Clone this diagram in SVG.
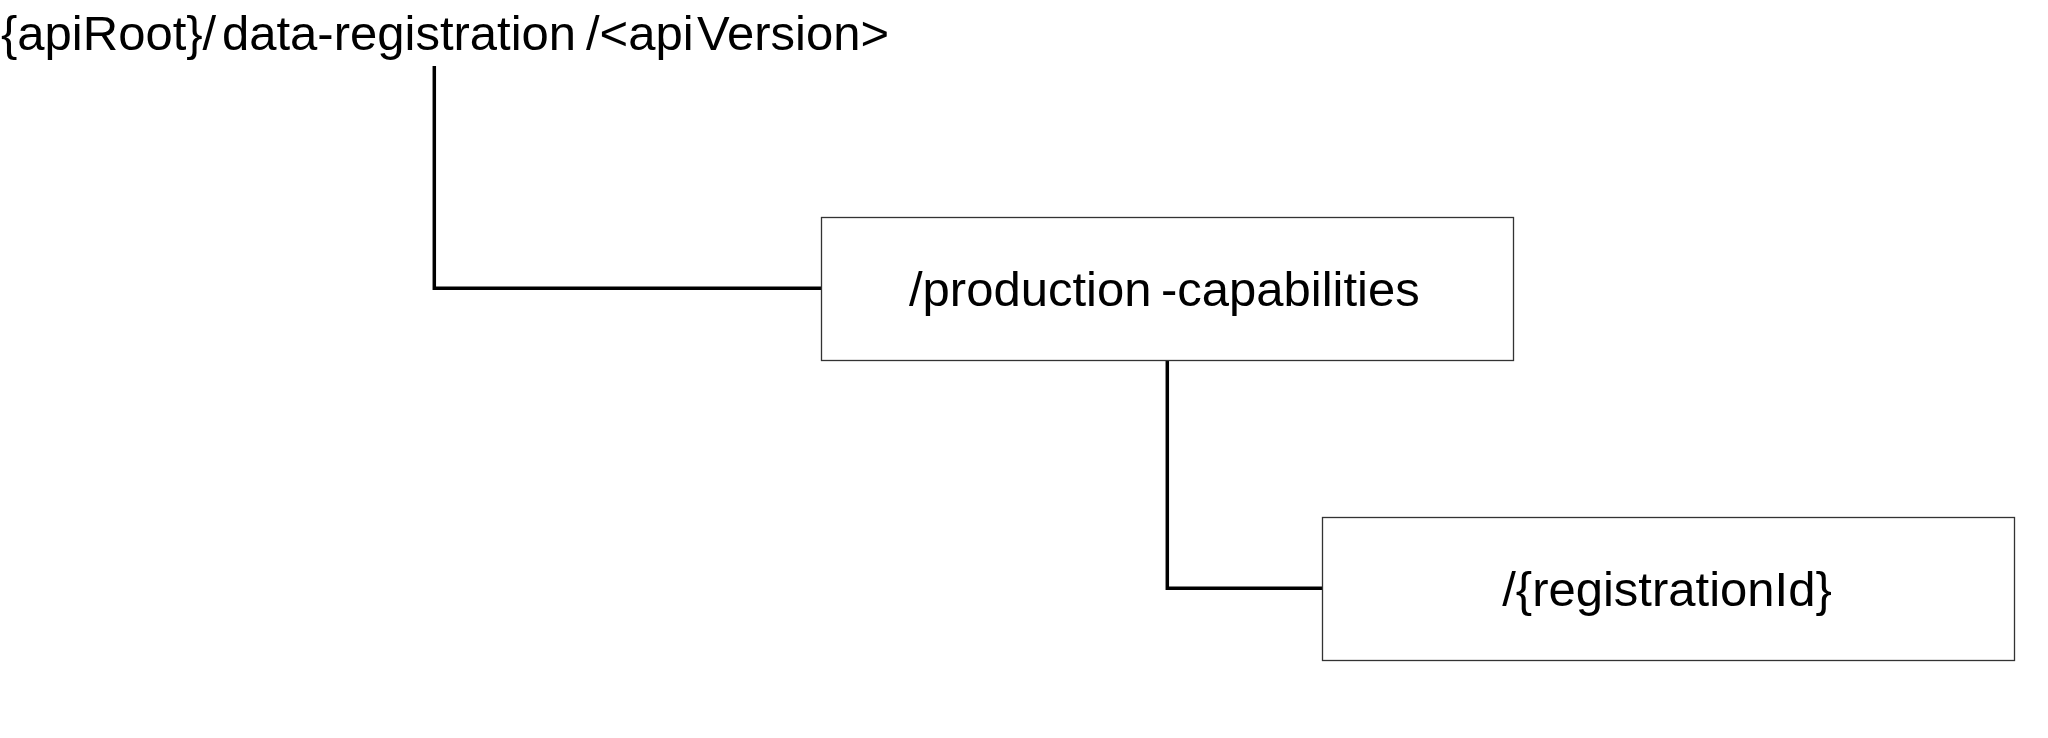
<svg xmlns="http://www.w3.org/2000/svg" width="2048" height="738" viewBox="0 0 2048 738">
<style>
text{font-family:"Liberation Sans",Arial,sans-serif;font-size:49px;fill:#000}
.box{fill:#fff;stroke:#333;stroke-width:1.3}
.conn{fill:none;stroke:#000;stroke-width:3.5;stroke-linejoin:miter}
</style>
<rect width="2048" height="738" fill="#fff"/>
<g id="connectors">
<polyline class="conn" points="434.3,66 434.3,288.3 822,288.3"/>
<polyline class="conn" points="1167.3,360 1167.3,588.3 1323,588.3"/>
</g>
<g id="root">
<text y="50"><tspan x="1">{apiRoot}/</tspan><tspan x="222">data-registration</tspan><tspan x="586">/&lt;api</tspan><tspan x="697">Version&gt;</tspan></text>
</g>
<g id="production-capabilities">
<rect class="box" x="821.5" y="217.5" width="692" height="143"/>
<text y="306"><tspan x="909">/production</tspan><tspan x="1161">-capabilities</tspan></text>
</g>
<g id="registrationId">
<rect class="box" x="1322.5" y="517.5" width="692" height="143"/>
<text x="1667" y="606" text-anchor="middle">/{registrationId}</text>
</g>
</svg>
